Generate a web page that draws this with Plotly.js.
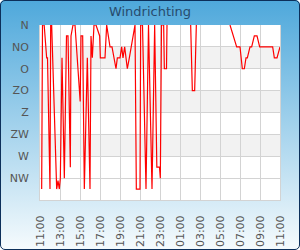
<!DOCTYPE html>
<html>
<head>
<meta charset="utf-8">
<script src="https://cdn.plot.ly/plotly-3.0.1.min.js"></script>
<style>
  html, body { margin: 0; padding: 0; background: #ffffff; }
  #wrap { position: relative; width: 300px; height: 250px; }
  #chart { position: absolute; left: 0; top: 0; width: 300px; height: 250px;
           background: linear-gradient(to bottom, #4ea8db 0%, #f6fbfd 100%);
           border-radius: 5px; overflow: hidden; }
  #frame { position: absolute; left: 0; top: 0; width: 300px; height: 250px;
           box-sizing: border-box; border: 1px solid #0c2f5a; border-radius: 5px;
           pointer-events: none; }
</style>
</head>
<body>
<div id="wrap">
  <div id="chart"></div>
  <div id="frame"></div>
</div>
<script>
// Wind direction in degrees (0 = N), null = no data
const times = [
  '2024-06-01 11:10','2024-06-01 11:15','2024-06-01 11:25','2024-06-01 11:40','2024-06-01 11:45',
  '2024-06-01 12:00','2024-06-01 12:04','2024-06-01 12:10','2024-06-01 12:40','2024-06-01 12:48',
  '2024-06-01 12:56','2024-06-01 13:02','2024-06-01 13:12','2024-06-01 13:26','2024-06-01 13:39',
  '2024-06-01 13:48','2024-06-01 14:02','2024-06-01 14:06','2024-06-01 14:18','2024-06-01 14:30',
  '2024-06-01 15:01','2024-06-01 15:06','2024-06-01 15:16','2024-06-01 15:26','2024-06-01 15:44',
  '2024-06-01 16:00','2024-06-01 16:06','2024-06-01 16:14','2024-06-01 16:24','2024-06-01 16:36',
  '2024-06-01 16:58','2024-06-01 17:02','2024-06-01 17:30','2024-06-01 17:40','2024-06-01 17:50',
  '2024-06-01 18:00','2024-06-01 18:12','2024-06-01 18:24','2024-06-01 18:36','2024-06-01 18:44',
  '2024-06-01 19:00','2024-06-01 19:10','2024-06-01 19:18','2024-06-01 19:28','2024-06-01 19:44',
  '2024-06-01 19:56','2024-06-01 20:08','2024-06-01 20:20','2024-06-01 20:30','2024-06-01 20:38',
  '2024-06-01 21:00','2024-06-01 21:04','2024-06-01 21:15','2024-06-01 21:36','2024-06-01 21:51',
  '2024-06-01 22:12','2024-06-01 22:28','2024-06-01 22:41','2024-06-01 22:57','2024-06-01 23:02',
  '2024-06-01 23:09','2024-06-01 23:22','2024-06-01 23:26','2024-06-01 23:39','2024-06-01 23:42',
  '2024-06-01 23:50',
  '2024-06-02 02:04','2024-06-02 02:14','2024-06-02 02:28','2024-06-02 02:38','2024-06-02 02:45',
  '2024-06-02 06:00','2024-06-02 06:40','2024-06-02 07:00','2024-06-02 07:14','2024-06-02 07:26',
  '2024-06-02 07:36','2024-06-02 07:44','2024-06-02 08:00','2024-06-02 08:10','2024-06-02 08:26',
  '2024-06-02 08:42','2024-06-02 08:58','2024-06-02 10:16','2024-06-02 10:26','2024-06-02 10:42',
  '2024-06-02 10:56','2024-06-02 11:00'
];
const directions = [
  337.5, 0, 0, 67.5, 67.5,
  337.5, 0, 0, 337.5, 320,
  337.5, 315, 67.5, 315, 22.5,
  22.5, 292.5, 22.5, 0, 0,
  157.5, 22.5, 22.5, 337.5, 67.5,
  337.5, 22.5, 67.5, 0, 0,
  22.5, 67.5, 67.5, 0, 22.5,
  45, 45, 67.5, 90, 67.5,
  67.5, 45, 67.5, 45, 90,
  67.5, 45, 22.5, 0, 337.5,
  337.5, 0, 0, 337.5, 0,
  337.5, 0, 292.5, 292.5, 315,
  0, 0, 90, 90, 0,
  null,
  0, 135, 135, 0, null,
  0, 45, 45, 90, 90,
  67.5, 67.5, 45, 45, 22.5,
  22.5, 45, 45, 67.5, 67.5,
  45, 45
];
const dirValues = [0, 45, 90, 135, 180, 225, 270, 315];
const dirLabels = ['N', 'NO', 'O', 'ZO', 'Z', 'ZW', 'W', 'NW'];
const bandRanges = [[45, 90], [135, 180], [225, 270]];
const xStart = '2024-06-01 11:00';
const xEnd = '2024-06-02 11:00';

const shapes = bandRanges.map(b => ({
  type: 'rect', xref: 'paper', yref: 'y', x0: 0, x1: 1, y0: b[0], y1: b[1],
  fillcolor: '#f2f2f2', line: {width: 0}, layer: 'below'
}));

const trace = {
  x: times, y: directions, type: 'scatter', mode: 'lines',
  line: {color: '#ff0000', width: 1.2}, connectgaps: false, hoverinfo: 'skip'
};

const layout = {
  width: 300, height: 250,
  margin: {l: 40, r: 20, t: 25, b: 50, pad: 0},
  paper_bgcolor: 'rgba(0,0,0,0)',
  plot_bgcolor: '#ffffff',
  showlegend: false,
  shapes: shapes,
  title: {text: 'Windrichting', font: {family: 'DejaVu Sans', size: 13, color: '#274b6d'},
          x: 0.5, xanchor: 'center', yref: 'container', y: 0.955, yanchor: 'middle'},
  xaxis: {
    type: 'date', range: [xStart, xEnd],
    tick0: xStart, dtick: 7200000, tickformat: '%H:%M', tickangle: -90,
    tickfont: {family: 'DejaVu Sans', size: 11, color: '#555555'},
    ticks: 'outside', ticklen: 10, tickcolor: 'rgba(0,0,0,0)',
    showgrid: true, gridcolor: '#d3d3d3', gridwidth: 1,
    showline: true, linecolor: '#d3d3d3', linewidth: 1, mirror: false,
    zeroline: false, fixedrange: true
  },
  yaxis: {
    range: [360, 0], tickvals: dirValues, ticktext: dirLabels,
    tickfont: {family: 'DejaVu Sans', size: 11, color: '#555555'},
    ticks: 'outside', ticklen: 8, tickcolor: 'rgba(0,0,0,0)',
    showgrid: true, gridcolor: '#d3d3d3', gridwidth: 1,
    showline: true, linecolor: '#d3d3d3', linewidth: 1, mirror: true,
    zeroline: false, fixedrange: true
  }
};

Plotly.newPlot('chart', [trace], layout, {displayModeBar: false, staticPlot: true});
</script>
</body>
</html>
